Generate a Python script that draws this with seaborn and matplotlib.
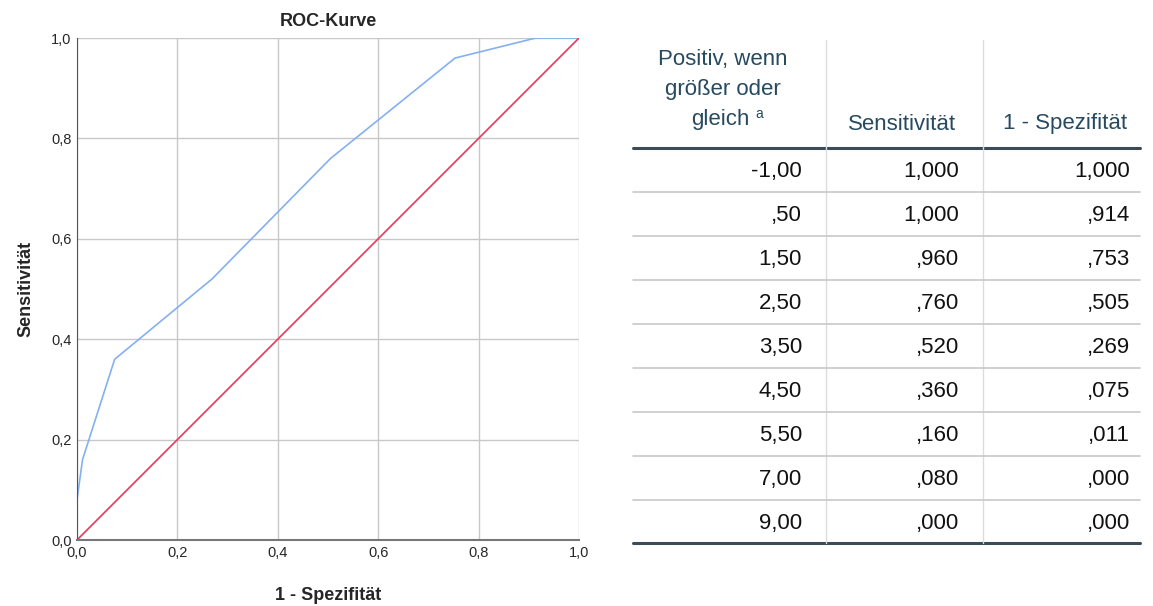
#!/usr/bin/env python3
'''
ROC-Kurve mit Koordinatentabelle.
'''

import matplotlib
matplotlib.use('Agg')
import matplotlib.pyplot as plt
import seaborn as sns
import pandas as pd

# Koordinaten der Kurve (aus der Tabelle)
schwellen = ['-1,00', ',50', '1,50', '2,50', '3,50', '4,50', '5,50', '7,00', '9,00']
sensitivitaet = [1.000, 1.000, 0.960, 0.760, 0.520, 0.360, 0.160, 0.080, 0.000]
eins_minus_spez = [1.000, 0.914, 0.753, 0.505, 0.269, 0.075, 0.011, 0.000, 0.000]
sens_txt = ['1,000', '1,000', ',960', ',760', ',520', ',360', ',160', ',080', ',000']
spez_txt = ['1,000', ',914', ',753', ',505', ',269', ',075', ',011', ',000', ',000']
diag = [0.0, 1.0]
ticks = [0.0, 0.2, 0.4, 0.6, 0.8, 1.0]
tick_labels = ['0,0', '0,2', '0,4', '0,6', '0,8', '1,0']

sns.set_style('white')
plt.rcParams['font.family'] = ['Liberation Sans', 'DejaVu Sans']

fig = plt.figure(figsize=(11.53, 6.06), dpi=100)
ax = fig.add_axes([77 / 1153, 66 / 606, 502 / 1153, 502 / 606])

df = pd.DataFrame({'x': eins_minus_spez, 'y': sensitivitaet})
sns.lineplot(data=df, x='x', y='y', ax=ax, color='#84b0f2', linewidth=1.2,
             sort=False, estimator=None)
sns.lineplot(x=diag, y=diag, ax=ax, color='#e8385f', linewidth=1.2)

ax.set_xlim(0, 1)
ax.set_ylim(0, 1)
ax.set_xticks(ticks)
ax.set_yticks(ticks)
ax.set_xticklabels(tick_labels, fontsize=10.5)
ax.set_yticklabels(tick_labels, fontsize=10.5)
ax.tick_params(length=0, pad=4)
ax.grid(True, color='#c8c8c8', linewidth=1)
ax.set_axisbelow(True)
for s in ['top', 'right']:
    ax.spines[s].set_visible(False)
ax.spines['left'].set_color('#555555')
ax.spines['bottom'].set_color('#777777')
ax.spines['bottom'].set_linewidth(1.5)
ax.set_title('ROC-Kurve', fontsize=13, fontweight='bold', pad=9)
ax.set_xlabel('1 - Spezifität', fontsize=13, fontweight='bold', labelpad=20)
ax.set_ylabel('Sensitivität', fontsize=13, fontweight='bold', labelpad=12)

# Tabelle in Pixelkoordinaten
tab = fig.add_axes([0, 0, 1, 1])
tab.set_xlim(0, 1153)
tab.set_ylim(606, 0)
tab.axis('off')

kopf = '#264a60'
fs = 16
tab.plot([633, 1140], [148, 148], color='#3b4b57', linewidth=2.2)
tab.plot([633, 1140], [543, 543], color='#3b4b57', linewidth=2.2)
for xv in [826, 983]:
    tab.plot([xv, xv], [40, 543], color='#dcdcdc', linewidth=1)

tab.text(723, 60, 'Positiv, wenn', ha='center', va='center', fontsize=fs, color=kopf)
tab.text(723, 90, 'größer oder', ha='center', va='center', fontsize=fs, color=kopf)
tab.text(750, 120, 'gleich', ha='right', va='center', fontsize=fs, color=kopf)
tab.text(755, 114, 'a', ha='left', va='center', fontsize=10, color=kopf)
tab.text(902, 124, 'Sensitivität', ha='center', va='center', fontsize=fs, color=kopf)
tab.text(1065, 124, '1 - Spezifität', ha='center', va='center', fontsize=fs, color=kopf)

y0, dy = 171, 44
for i, (a, b, c) in enumerate(zip(schwellen, sens_txt, spez_txt)):
    yy = y0 + i * dy
    tab.text(802, yy, a, ha='right', va='center', fontsize=fs, color='#111111')
    tab.text(959, yy, b, ha='right', va='center', fontsize=fs, color='#111111')
    tab.text(1130, yy, c, ha='right', va='center', fontsize=fs, color='#111111')
    if i < len(schwellen) - 1:
        tab.plot([633, 1140], [yy + 21, yy + 21], color='#c8c8c8', linewidth=1.2)

fig.savefig('out.png', dpi=100)
